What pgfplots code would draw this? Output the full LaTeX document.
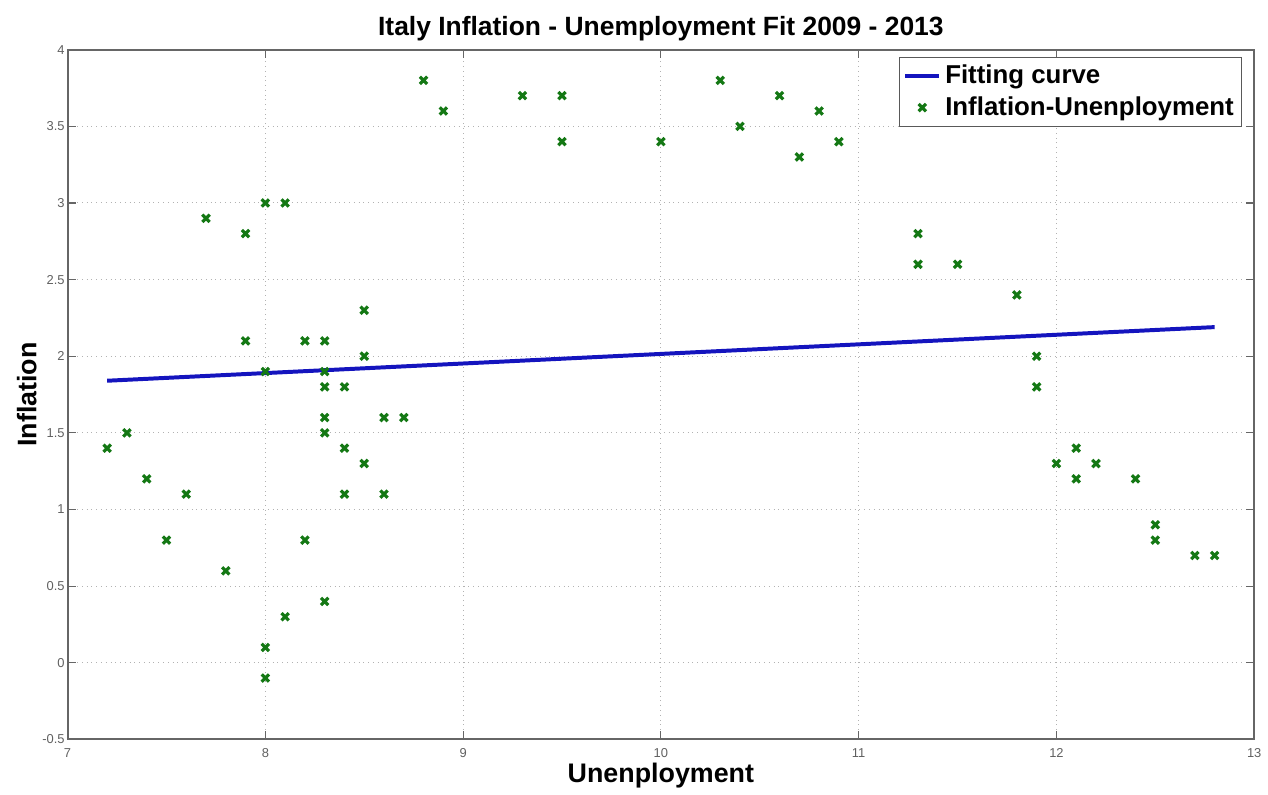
\documentclass[border=0pt]{standalone}
\usepackage{pgfplots}
\pgfplotsset{compat=1.18}
\usepackage{fontspec}
\setmainfont{Liberation Sans}
\definecolor{markgreen}{RGB}{20,120,20}
\definecolor{fitblue}{RGB}{20,20,190}
\begin{document}
\begin{tikzpicture}[x=1pt,y=1pt]
\begin{axis}[
    at={(0,0)}, anchor=south west,
    width=597pt, height=347pt,
    scale only axis,
    xmin=7, xmax=13,
    ymin=-0.5, ymax=4,
    xtick={7,8,...,13},
    ytick={-0.5,0,0.5,...,4},
    yticklabels={-0.5,0,0.5,1,1.5,2,2.5,3,3.5,4},
    /pgf/number format/assume math mode=true,
    tick label style={font=\fontsize{6.5}{7.5}\selectfont, text=gray!75!black},
    xticklabel style={yshift=-1pt},
    yticklabel style={xshift=2pt},
    tick align=inside,
    major tick length=4pt,
    tick style={gray!80!black, line width=0.6pt},
    axis line style={gray!80!black, line width=1pt},
    grid=major,
    grid style={dotted, gray!60, line width=0.5pt},
    title={\bfseries Italy Inflation - Unemployment Fit 2009 - 2013},
    title style={font=\fontsize{13.3}{15}\selectfont, yshift=-5pt},
    xlabel={\bfseries Unenployment},
    ylabel={\bfseries Inflation},
    label style={font=\fontsize{13.5}{15}\selectfont},
    xlabel style={yshift=4pt},
    ylabel style={yshift=-4pt},
    legend style={font=\bfseries\fontsize{13}{15}\selectfont, draw=gray!70!black, line width=0.6pt,
        at={(0.990,0.990)}, anchor=north east, inner sep=2pt, row sep=1pt,
        legend cell align=left},
]
\addplot[fitblue, line width=2pt] coordinates {(7.2,1.84) (12.8,2.19)};
\addlegendentry{Fitting curve}
\addplot[only marks, mark=x, mark size=2.6pt, markgreen, line width=1.6pt] coordinates {
(7.2,1.4) (7.3,1.5) (7.4,1.2) (7.5,0.8) (7.6,1.1) (7.7,2.9) (7.8,0.6)
(7.9,2.8) (7.9,2.1) (8.0,3.0) (8.0,1.9) (8.0,0.1) (8.0,-0.1)
(8.1,3.0) (8.1,0.3) (8.2,2.1) (8.2,0.8)
(8.3,2.1) (8.3,1.9) (8.3,1.8) (8.3,1.6) (8.3,1.5) (8.3,0.4)
(8.4,1.8) (8.4,1.4) (8.4,1.1) (8.5,2.3) (8.5,2.0) (8.5,1.3)
(8.6,1.6) (8.6,1.1) (8.7,1.6) (8.8,3.8) (8.9,3.6)
(9.3,3.7) (9.5,3.7) (9.5,3.4) (10.0,3.4) (10.3,3.8) (10.4,3.5)
(10.6,3.7) (10.7,3.3) (10.8,3.6) (10.9,3.4)
(11.3,2.8) (11.3,2.6) (11.5,2.6) (11.8,2.4) (11.9,2.0) (11.9,1.8)
(12.0,1.3) (12.1,1.4) (12.1,1.2) (12.2,1.3) (12.4,1.2)
(12.5,0.9) (12.5,0.8) (12.7,0.7) (12.8,0.7)
};
\addlegendentry{Inflation-Unenployment}
\end{axis}
\path[use as bounding box] (-34pt,-23pt) rectangle (600pt,372pt);
\end{tikzpicture}
\end{document}
